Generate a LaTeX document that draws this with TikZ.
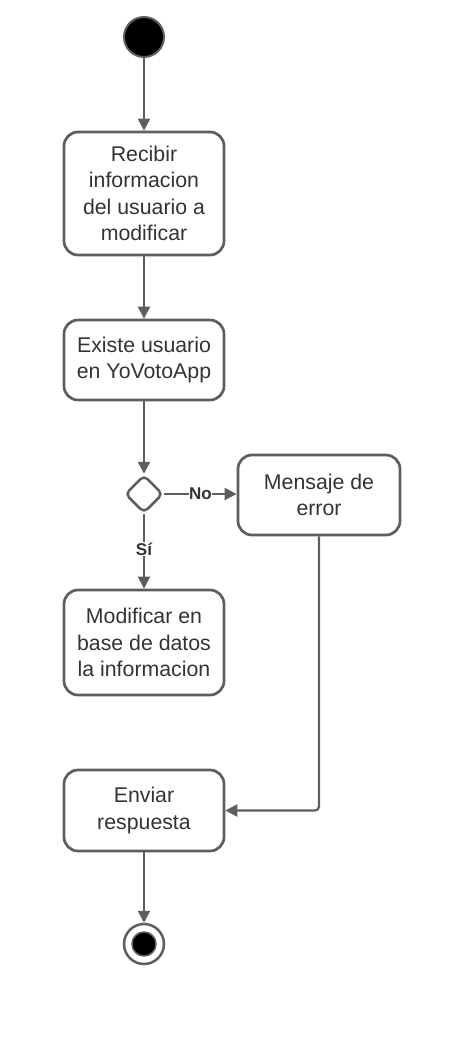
\documentclass[tikz,border=0pt]{standalone}
\usepackage{fontspec}
\setmainfont{Liberation Sans}
\usetikzlibrary{arrows.meta,shapes.geometric}
\definecolor{ln}{HTML}{5E5E5E}
\definecolor{tx}{HTML}{333333}
\begin{document}
\begin{tikzpicture}[x=1pt,y=-1pt,
  act/.style={draw=ln,line width=2.7pt,rounded corners=14pt,minimum width=160pt,align=center,text=tx,font=\fontsize{21.3}{26.3}\selectfont,inner sep=0pt},
  conn/.style={draw=ln,line width=2.2pt,-{Triangle[length=12pt,width=12pt]}},
  lbl/.style={fill=white,text=tx,font=\fontsize{17}{19}\selectfont\bfseries,inner sep=0.5pt}]
\useasboundingbox (0,0) rectangle (454,1038);
\node[circle,fill=black,draw=ln,line width=2pt,minimum size=40pt,inner sep=0pt] (start) at (144,37) {};
\node[act,minimum height=123pt] (b1) at (144,193.5) {Recibir\\informacion\\del usuario a\\modificar};
\node[act,minimum height=80pt] (b2) at (144,360) {Existe usuario\\en YoVotoApp};
\node[diamond,draw=ln,line width=2.5pt,rounded corners=5pt,minimum size=38pt,inner sep=0pt] (d) at (144,494) {};
\node[act,minimum width=162pt,minimum height=80pt] (b3) at (319,495) {Mensaje de\\error};
\node[act,minimum height=105pt] (b4) at (144,642.5) {Modificar en\\base de datos\\la informacion};
\node[act,minimum height=81pt] (b5) at (144,810.5) {Enviar\\respuesta};
\node[circle,draw=ln,line width=2.5pt,minimum size=40pt,inner sep=0pt] (end) at (144,944) {};
\node[circle,fill=black,draw=ln,line width=1.5pt,minimum size=24pt,inner sep=0pt] at (end) {};
\draw[conn] (start) -- (b1);
\draw[conn] (b1) -- (b2);
\draw[conn] (b2) -- (d);
\draw[conn] (d.east) -- node[lbl,pos=0.5]{No} (b3.west |- d.east);
\draw[conn] (d.south) -- node[lbl,pos=0.47]{Sí} (b4);
\draw[conn,rounded corners=4pt] (b3.south) |- (b5.east);
\draw[conn] (b5) -- (end);
\end{tikzpicture}
\end{document}
